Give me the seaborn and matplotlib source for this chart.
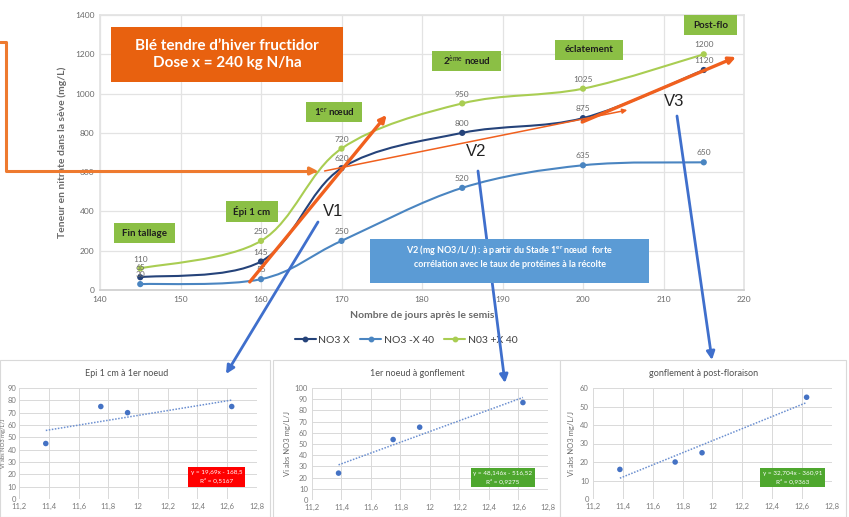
import numpy as np
import pandas as pd
import matplotlib
matplotlib.use("Agg")
import matplotlib.pyplot as plt
import seaborn as sns
from matplotlib.path import Path
from matplotlib.patches import PathPatch, Rectangle, FancyArrowPatch
from matplotlib.lines import Line2D

# ---------------- data ----------------
days = [145, 160, 170, 185, 200, 215]
no3_x = [65, 145, 620, 800, 875, 1120]
no3_minus40 = [30, 55, 250, 520, 635, 650]
no3_plus40 = [110, 250, 720, 950, 1025, 1200]
series_names = ["NO3 X", "NO3 -X 40", "N03 +X 40"]
series_colors = ["#25437a", "#4a85c1", "#a9cd52"]

# tangent arrows (start -> end), in days / mg/L
v1_arrow = [(158.6, 41), (175.6, 891)]
v2_arrow = [(167.9, 606), (205.5, 916)]
v3_arrow = [(199.9, 855), (219.0, 1186)]

stages = ["Fin tallage", "Épi 1 cm", r"1$^{\mathrm{er}}$ nœud", r"2$^{\mathrm{ème}}$ nœud",
          "éclatement", "Post-flo"]

# protein rate vs nitrate absorption speed
protein = [11.38, 11.75, 11.93, 12.63]
vi_epi_noeud = [45, 75, 70, 75]
vi_noeud_gonfl = [24, 54, 65, 87]
vi_gonfl_post = [16, 20, 25, 55]
sub_titles = ["Epi 1 cm à 1er noeud", "1er noeud à gonflement", "gonflement à post-floraison"]
slopes = [19.69, 48.146, 32.704]
intercepts = [-168.5, -516.52, -360.91]
r2 = ["0,5167", "0,9275", "0,9363"]
eq_labels = ["y = 19,69x - 168,5", "y = 48,146x - 516,52", "y = 32,704x - 360,91"]
sub_ymax = [90, 100, 60]

# ---------------- style ----------------
sns.set_theme(style="white")
plt.rcParams["font.family"] = ["Lato", "DejaVu Sans"]
plt.rcParams["mathtext.fontset"] = "custom"
plt.rcParams["mathtext.rm"] = "Lato"
plt.rcParams["mathtext.it"] = "Lato:italic"
plt.rcParams["mathtext.bf"] = "Lato:bold"

W, H = 849, 517
fig = plt.figure(figsize=(W / 100, H / 100), dpi=100)
fig.patch.set_facecolor("white")


def fx(px):
    return px / W


def fy(py):
    return 1 - py / H


def fig_box(x0, y0, x1, y1, color, text, size, tcolor="white", weight="bold",
            ty=None, z=5, ls=1.2):
    fig.add_artist(Rectangle((fx(x0), fy(y1)), fx(x1) - fx(x0), fy(y0) - fy(y1),
                             transform=fig.transFigure, facecolor=color,
                             edgecolor="none", zorder=z))
    cy = (y0 + y1) / 2 if ty is None else ty
    fig.text(fx((x0 + x1) / 2), fy(cy), text, ha="center", va="center",
             color=tcolor, fontsize=size, fontweight=weight, zorder=z + 1,
             linespacing=ls)


def smooth_path(xs, ys):
    verts = [(xs[0], ys[0])]
    codes = [Path.MOVETO]
    n = len(xs)
    for i in range(n - 1):
        p0 = i - 1 if i > 0 else i
        p3 = i + 2 if i + 2 < n else i + 1
        c1 = (xs[i] + (xs[i + 1] - xs[p0]) / 6, ys[i] + (ys[i + 1] - ys[p0]) / 6)
        c2 = (xs[i + 1] - (xs[p3] - xs[i]) / 6, ys[i + 1] - (ys[p3] - ys[i]) / 6)
        verts += [c1, c2, (xs[i + 1], ys[i + 1])]
        codes += [Path.CURVE4] * 3
    return Path(verts, codes)


# ---------------- main chart ----------------
ax = fig.add_axes([fx(100), fy(290), fx(744) - fx(100), fy(15) - fy(290)])
ax.set_xlim(140, 220)
ax.set_ylim(0, 1400)
ax.set_xticks(np.arange(140, 221, 10))
ax.set_yticks(np.arange(0, 1401, 200))
ax.grid(True, color="#e3e3e3", lw=0.9)
for s in ax.spines.values():
    s.set_color("#e3e3e3")
ax.spines["bottom"].set_color("#cfcfcf")
ax.tick_params(length=0, labelsize=6, labelcolor="#6a6a6a", pad=4)

df = pd.DataFrame({
    "jour": days * 3,
    "no3": no3_x + no3_minus40 + no3_plus40,
    "serie": [n for n in series_names for _ in days],
})
for name, col in zip(series_names, series_colors):
    sub = df[df["serie"] == name]
    ax.add_patch(PathPatch(smooth_path(list(sub["jour"]), list(sub["no3"])),
                           facecolor="none", edgecolor=col, lw=1.5, zorder=2))
sns.scatterplot(data=df, x="jour", y="no3", hue="serie", palette=series_colors,
                s=20, edgecolor="none", ax=ax, legend=False, zorder=3)
ax.set_xlabel("Nombre de jours après le semis", fontsize=7.5, fontweight="bold",
              color="#6a6a6a", labelpad=6)
ax.set_ylabel("Teneur en nitrate dans la sève (mg/L)", fontsize=7.5,
              fontweight="bold", color="#6a6a6a", labelpad=6)

for vals in (no3_x, no3_minus40, no3_plus40):
    for d, v in zip(days, vals):
        ax.annotate(str(v), (d, v), xytext=(0, 4.2), textcoords="offset points",
                    ha="center", va="bottom", fontsize=6, color="#6a6a6a", zorder=4)

for arr, lw, ms in ((v1_arrow, 2.4, 10), (v2_arrow, 1.1, 7), (v3_arrow, 2.4, 10)):
    ax.annotate("", xy=arr[1], xytext=arr[0],
                arrowprops=dict(arrowstyle="-|>", color="#f0601e", lw=lw,
                                mutation_scale=ms, shrinkA=0, shrinkB=0),
                zorder=5)

handles = [Line2D([], [], color=c, lw=1.5, marker="o", ms=3.2) for c in series_colors]
fig.legend(handles, series_names, loc="center", ncol=3, frameon=False,
           bbox_to_anchor=(fx(406), fy(340)), fontsize=7.5, labelcolor="#404040",
           handlelength=2.0, handletextpad=0.25, columnspacing=1.0)

# title box and stage boxes
fig_box(111, 27, 343, 82, "#e8610f", "Blé tendre d’hiver fructidor\nDose x = 240 kg N/ha",
        11, ls=1.35)
green = "#8bbf45"
stage_boxes = [(114, 223, 175, 243), (226, 201, 278, 222), (306, 102, 362, 122),
               (432, 51, 501, 71), (555, 40, 623, 60), (684, 15, 737, 35)]
for (x0, y0, x1, y1), lab in zip(stage_boxes, stages):
    fig_box(x0, y0, x1, y1, green, lab, 7, tcolor="#1e1e1e", weight="bold")

for lab, (x, y) in zip(["V1", "V2", "V3"], [(333, 211), (476, 152), (674, 101)]):
    fig.text(fx(x), fy(y), lab, fontsize=12, color="#222222", ha="center",
             va="center", family=["Liberation Sans", "DejaVu Sans"], zorder=7)

# orange elbow connector pointing at the 170-day point
conn = Path([(fx(0), fy(42)), (fx(6), fy(42)), (fx(6), fy(171)), (fx(318), fy(171))],
            [Path.MOVETO, Path.LINETO, Path.LINETO, Path.LINETO])
fig.add_artist(FancyArrowPatch(path=conn, transform=fig.transFigure,
                               arrowstyle="-|>", mutation_scale=11, color="#ee7a2f",
                               lw=2.2, zorder=6))

# blue arrows from the growth phases to the scatter panels
for (x0, y0), (x1, y1) in [((318, 222), (226, 374)), ((478, 171), (505, 383)),
                           ((677, 116), (712, 360))]:
    fig.add_artist(FancyArrowPatch((fx(x0), fy(y0)), (fx(x1), fy(y1)),
                                   transform=fig.transFigure, arrowstyle="-|>",
                                   mutation_scale=12, color="#3f6fcc", lw=2,
                                   shrinkA=0, shrinkB=0, zorder=6))

fig_box(370, 239, 649, 283, "#5b9bd5",
        "V2 (mg NO3/L/J) : à partir du Stade 1$^{\\mathbf{er}}$ nœud  forte\n"
        "corrélation avec le taux de protéines à la récolte",
        6.5, ty=256, z=8, ls=1.4)

# ---------------- scatter panels ----------------
panels = [(0, 270), (273, 560), (560, 846)]
for (x0, x1) in panels:
    fig.add_artist(Rectangle((fx(x0), fy(517)), fx(x1) - fx(x0), fy(360) - fy(517),
                             transform=fig.transFigure, facecolor="white",
                             edgecolor="#d9d9d9", lw=0.8, zorder=-1))

sub_axes_px = [(19, 257, 499, 388), (312, 548, 500, 388), (593, 832, 499, 388)]
title_x = [127, 417, 704]
ylab_x = [6.5, 291, 575]
ylab_size = [4.2, 5.5, 5.5]
eq_boxes = [((188, 467, 245, 487), "#ff0000"), ((471, 468, 535, 487), "#4ea72e"),
            ((760, 468, 825, 487), "#4ea72e")]
vi_sets = [vi_epi_noeud, vi_noeud_gonfl, vi_gonfl_post]

for i, (l, r, b, t) in enumerate(sub_axes_px):
    sax = fig.add_axes([fx(l), fy(b), fx(r) - fx(l), fy(t) - fy(b)])
    sax.set_facecolor("none")
    sax.set_xlim(11.2, 12.8)
    sax.set_ylim(0, sub_ymax[i])
    xt = np.round(np.arange(11.2, 12.81, 0.2), 1)
    sax.set_xticks(xt)
    sax.set_xticklabels([f"{v:g}".replace(".", ",") for v in xt])
    sax.set_yticks(np.arange(0, sub_ymax[i] + 1, 10))
    sax.grid(True, color="#d9d9d9", lw=0.7)
    for s in sax.spines.values():
        s.set_visible(False)
    sax.tick_params(length=0, labelsize=5.5, labelcolor="#7a7a7a", pad=3)
    sax.tick_params(axis="y", pad=2 if i == 0 else 3)
    sns.scatterplot(x=protein, y=vi_sets[i], ax=sax, color="#4472c4", s=16,
                    edgecolor="none", zorder=3)
    xs = np.array([min(protein), max(protein)])
    sax.plot(xs, slopes[i] * xs + intercepts[i], ls=(0, (1, 1)), color="#6b8fd0",
             lw=1.1, zorder=2)
    sax.set_xlabel("")
    sax.set_ylabel("Vi abs NO3 mg/L/J", fontsize=ylab_size[i], color="#6a6a6a")
    sax.yaxis.set_label_coords((ylab_x[i] - l) / (r - l), 0.5)
    fig.text(fx(title_x[i]), fy(373), sub_titles[i], ha="center", va="center",
             fontsize=6.5, color="#505050")
    (bx0, by0, bx1, by1), bcol = eq_boxes[i]
    fig_box(bx0, by0, bx1, by1, bcol, f"{eq_labels[i]}\nR² = {r2[i]}", 4.6,
            weight="normal", ls=1.5)

fig.savefig("out.png", dpi=100)
